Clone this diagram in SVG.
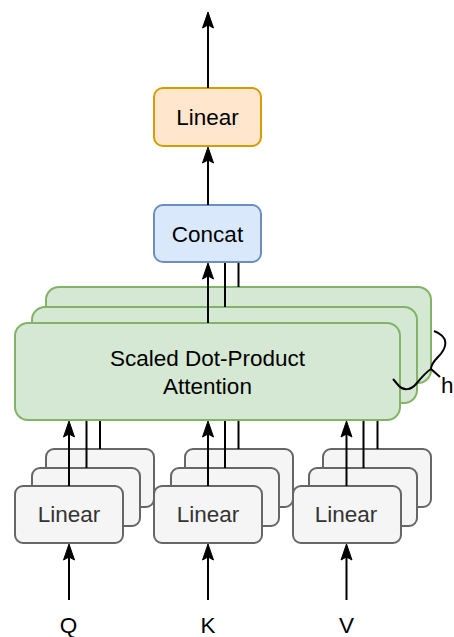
<svg xmlns="http://www.w3.org/2000/svg" width="454" height="637" viewBox="0 0 454 637">
<defs>
<style>
text{font-family:"Liberation Sans",Arial,Helvetica,sans-serif;font-size:22.5px;text-anchor:middle;fill:#000}
.lin rect{fill:#f5f5f5;stroke:#666666;stroke-width:2}
.lin text{fill:#333333}
.att rect{fill:#d5e8d4;stroke:#82b366;stroke-width:2}
.conn line,.conn path{stroke:#000;stroke-width:2;fill:none}
.arr{marker-end:url(#ah)}
</style>
<marker id="ah" markerUnits="userSpaceOnUse" markerWidth="30" markerHeight="30" refX="0" refY="0" orient="auto" overflow="visible">
<path d="M10,0 L-6,-5.5 L-3,0 L-6,5.5 Z" fill="#000" stroke="#000" stroke-width="1"/>
</marker>
</defs>
<rect width="454" height="637" fill="#fff"/>

<g id="linearQ" class="lin">
<rect x="46" y="449" width="108" height="58" rx="8"/>
<rect x="32" y="468" width="108" height="58" rx="8"/>
<rect x="15" y="486" width="108" height="57" rx="8"/>
<text x="69" y="522">Linear</text>
</g>
<g id="linearK" class="lin">
<rect x="185" y="449" width="108" height="58" rx="8"/>
<rect x="171" y="468" width="108" height="58" rx="8"/>
<rect x="154" y="486" width="108" height="57" rx="8"/>
<text x="208" y="522">Linear</text>
</g>
<g id="linearV" class="lin">
<rect x="323" y="449" width="108" height="58" rx="8"/>
<rect x="309" y="468" width="108" height="58" rx="8"/>
<rect x="293" y="486" width="108" height="57" rx="8"/>
<text x="346" y="522">Linear</text>
</g>

<g id="attention" class="att">
<rect x="46" y="287" width="385" height="96" rx="13"/>
<rect x="32" y="307" width="385" height="96" rx="13"/>
<rect x="15" y="323" width="385" height="97" rx="13"/>
<text x="207.5" y="366">Scaled Dot-Product</text>
<text x="207.5" y="393.5">Attention</text>
</g>

<g id="concat">
<rect x="154" y="205" width="107" height="57" rx="9" fill="#dae8fc" stroke="#6c8ebf" stroke-width="2"/>
<text x="207.5" y="241.5">Concat</text>
</g>

<g id="linearOut">
<rect x="154" y="88" width="107" height="58" rx="9" fill="#ffe6cc" stroke="#d79b00" stroke-width="2"/>
<text x="207.5" y="124.5">Linear</text>
</g>

<g id="labels">
<text x="68.5" y="633">Q</text>
<text x="208" y="633">K</text>
<text x="346.5" y="633">V</text>
<text x="453.5" y="393" style="text-anchor:end">h</text>
</g>

<g id="connectors" class="conn">
<line class="arr" x1="69" y1="600" x2="69" y2="554"/>
<line class="arr" x1="208" y1="600" x2="208" y2="554"/>
<line class="arr" x1="346.5" y1="600" x2="346.5" y2="554"/>

<line class="arr" x1="69" y1="486" x2="69" y2="431"/>
<line x1="86.5" y1="468" x2="86.5" y2="421"/>
<line x1="100" y1="449" x2="100" y2="421"/>
<line class="arr" x1="208" y1="486" x2="208" y2="431"/>
<line x1="225" y1="468" x2="225" y2="421"/>
<line x1="238.5" y1="449" x2="238.5" y2="421"/>
<line class="arr" x1="346.5" y1="486" x2="346.5" y2="431"/>
<line x1="363.5" y1="468" x2="363.5" y2="421"/>
<line x1="377.5" y1="449" x2="377.5" y2="421"/>

<line class="arr" x1="208" y1="323" x2="208" y2="273"/>
<line x1="225" y1="307" x2="225" y2="263"/>
<line x1="238.5" y1="287" x2="238.5" y2="263"/>

<line class="arr" x1="208" y1="205" x2="208" y2="157"/>
<line class="arr" x1="208" y1="88" x2="208" y2="22"/>

<path d="M434,331 C450,337 447,348 438,357 C433,362 431,366 431,369 M431,369 C426,372 421,378 416,384 C411,390 404,391 399,386 L393,379 M431,369 L440,377"/>
</g>
</svg>
